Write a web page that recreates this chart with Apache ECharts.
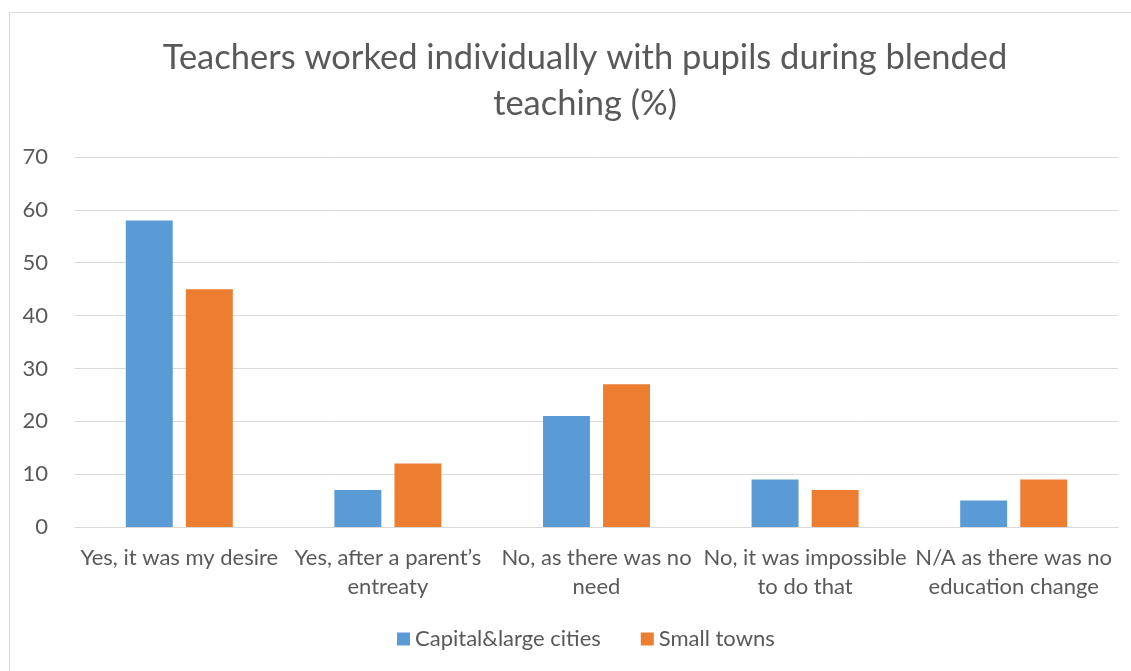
<!DOCTYPE html>
<html>
<head>
<meta charset="utf-8">
<script src="https://cdn.jsdelivr.net/npm/echarts@6/dist/echarts.min.js"></script>
<style>
	html, body { margin: 0; padding: 0; background: #fff; overflow: hidden; }
	#frame { position: absolute; left: 9px; top: 12px; width: 1142px; height: 680px; border: 1px solid #d9d9d9; }
	#chart { position: absolute; left: 0; top: 0; width: 1131px; height: 671px; }
</style>
</head>
<body>
<div id="frame"></div>
<div id="chart"></div>
<script>
var categories = ['Yes, it was my desire', 'Yes, after a parent\u2019s\nentreaty', 'No, as there was no\nneed', 'No, it was impossible\nto do that', 'N/A as there was no\neducation change'];
var capitalValues = [58, 7, 21, 9, 5];
var townValues = [45, 12, 27, 7, 9];
var yTicks = [0, 10, 20, 30, 40, 50, 60, 70];

window.onload = function() {
	var chart = echarts.init(document.getElementById('chart'));
	var font = 'Lato';
	var option = {
		animation: false,
		title: {
			text: 'Teachers worked individually with pupils during blended\nteaching (%)',
			left: 580,
			textAlign: 'center',
			top: 30,
			textStyle: { fontFamily: font, fontSize: 34.5, fontWeight: 'normal', color: '#595959', lineHeight: 46 }
		},
		legend: {
			bottom: 16,
			left: 392,
			itemWidth: 13,
			itemHeight: 13,
			itemGap: 40,
			icon: 'rect',
			textStyle: { fontFamily: font, fontSize: 22, color: '#595959' },
			data: ['Capital&large cities', 'Small towns']
		},
		grid: { left: 75, right: 13, top: 157, bottom: 144 },
		xAxis: {
			type: 'category',
			data: categories,
			axisTick: { show: false },
			axisLine: { lineStyle: { color: '#d9d9d9', width: 1 } },
			axisLabel: { fontFamily: font, fontSize: 22, color: '#595959', margin: 16, lineHeight: 29, interval: 0 }
		},
		yAxis: {
			type: 'value',
			min: yTicks[0],
			max: yTicks[yTicks.length - 1],
			interval: 10,
			axisLabel: { fontFamily: font, fontSize: 22, color: '#595959', margin: 27 },
			splitLine: { lineStyle: { color: '#d9d9d9' } }
		},
		series: [
			{
				name: 'Capital&large cities',
				type: 'bar',
				data: capitalValues,
				barWidth: '22.5%',
				barGap: '28%',
				itemStyle: { color: '#5b9bd5' }
			},
			{
				name: 'Small towns',
				type: 'bar',
				data: townValues,
				barWidth: '22.5%',
				itemStyle: { color: '#ed7d31' }
			}
		]
	};
	chart.setOption(option);
};
</script>
</body>
</html>
